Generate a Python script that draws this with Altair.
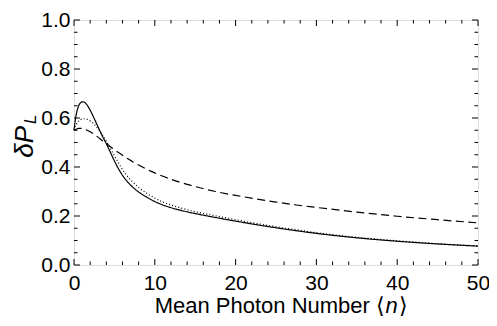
import altair as alt
import pandas as pd

# ---- data ----
n_vals = [0, 0.2, 0.4, 0.6, 0.8, 1.0, 1.25, 1.5, 2, 2.5, 3, 3.5, 4, 4.5, 5, 5.5, 6, 6.5, 7,
          7.5, 8, 9, 10, 11, 12, 13, 14, 15, 17.5, 20, 22.5, 25, 27.5, 30, 35, 40, 45, 50]
solid = [0.55, 0.60, 0.632, 0.652, 0.662, 0.666, 0.665, 0.658, 0.632, 0.598, 0.562, 0.527,
         0.495, 0.46, 0.425, 0.393, 0.366, 0.344, 0.326, 0.311, 0.298, 0.277, 0.259, 0.245,
         0.234, 0.225, 0.217, 0.21, 0.194, 0.179, 0.165, 0.152, 0.14, 0.129, 0.111, 0.097,
         0.086, 0.077]
dotted = [0.55, 0.568, 0.58, 0.588, 0.593, 0.596, 0.597, 0.596, 0.588, 0.574, 0.555, 0.532,
          0.505, 0.476, 0.446, 0.417, 0.39, 0.367, 0.348, 0.332, 0.317, 0.293, 0.273, 0.257,
          0.245, 0.235, 0.226, 0.218, 0.201, 0.185, 0.17, 0.156, 0.144, 0.132, 0.113, 0.099,
          0.087, 0.078]
dashed = [0.55, 0.553, 0.556, 0.558, 0.558, 0.557, 0.555, 0.552, 0.544, 0.533, 0.521, 0.508,
          0.496, 0.483, 0.471, 0.459, 0.448, 0.437, 0.427, 0.417, 0.408, 0.391, 0.376, 0.362,
          0.35, 0.339, 0.329, 0.32, 0.3, 0.284, 0.27, 0.257, 0.245, 0.235, 0.216, 0.199,
          0.185, 0.172]

x_major = [0, 10, 20, 30, 40, 50]
x_minor = [v for v in range(0, 51, 2) if v % 10 != 0]
y_major = [0.0, 0.2, 0.4, 0.6, 0.8, 1.0]
y_minor = [round(i * 0.05, 2) for i in range(21) if i % 4 != 0]

x_title_text = "Mean Photon Number \u27e8"
x_title_var = "n"
x_title_close = "\u27e9"
y_title_text = "\u03b4P"
y_title_sub = "L"

W, H = 404, 245
FONT = "Liberation Sans"

rows = []
for name, vals in [("solid", solid), ("dotted", dotted), ("dashed", dashed)]:
    for n, v in zip(n_vals, vals):
        rows.append({"n": n, "v": v, "series": name})
df = pd.DataFrame(rows)

xscale = alt.Scale(domain=[0, 50], nice=False, zero=False)
yscale = alt.Scale(domain=[0, 1], nice=False, zero=False)

lines = alt.Chart(df).mark_line(color="black", strokeWidth=1.2, interpolate="monotone").encode(
    x=alt.X("n:Q", scale=xscale,
            axis=alt.Axis(values=x_major, format="d", grid=False, domain=False, ticks=False,
                          tickSize=0, labelPadding=7, labelFontSize=21, labelFont=FONT,
                          labelColor="black", title=None, labelFlush=False)),
    y=alt.Y("v:Q", scale=yscale,
            axis=alt.Axis(values=y_major, format=".1f", grid=False, domain=False, ticks=False,
                          tickSize=0, labelPadding=4, labelFontSize=21, labelFont=FONT,
                          labelColor="black", title=None, labelFlush=False)),
    strokeDash=alt.StrokeDash("series:N",
                              scale=alt.Scale(domain=["solid", "dotted", "dashed"],
                                              range=[[1, 0], [1, 2.2], [8, 4.5]]),
                              legend=None),
    detail="series:N",
)

def xticks(vals, length):
    d = pd.DataFrame({"t": vals})
    b = alt.Chart(d).mark_rule(color="black", strokeWidth=1).encode(
        x=alt.X("t:Q", scale=xscale), y=alt.value(H), y2=alt.value(H - length))
    t = alt.Chart(d).mark_rule(color="black", strokeWidth=1).encode(
        x=alt.X("t:Q", scale=xscale), y=alt.value(0), y2=alt.value(length))
    return [b, t]

def yticks(vals, length):
    d = pd.DataFrame({"t": vals})
    l = alt.Chart(d).mark_rule(color="black", strokeWidth=1).encode(
        y=alt.Y("t:Q", scale=yscale), x=alt.value(0), x2=alt.value(length))
    r = alt.Chart(d).mark_rule(color="black", strokeWidth=1).encode(
        y=alt.Y("t:Q", scale=yscale), x=alt.value(W), x2=alt.value(W - length))
    return [l, r]

tick_layers = xticks(x_major, 6) + xticks(x_minor, 3.5) + yticks(y_major, 6) + yticks(y_minor, 3.5)

src = pd.DataFrame({"a": [0]})

def label(text, x, y, size, align="center", style="normal", font=FONT, angle=0):
    return alt.Chart(src).mark_text(
        text=text, angle=angle, align=align, baseline="alphabetic", font=font,
        fontSize=size, fontStyle=style, color="black").encode(x=alt.value(x), y=alt.value(y))

TY = 293
title_layers = [
    label(x_title_text, 311, TY, 22, align="right"),
    label(x_title_var, 311.5, TY, 22, align="left", style="italic"),
    label(x_title_close, 324.5, TY, 22, align="left"),
    label(y_title_text, -41, 106, 26, align="right", style="italic", angle=270),
    label(y_title_sub, -38, 104, 17, align="left", style="italic", angle=270),
]

chart = alt.layer(lines, *tick_layers, *title_layers).properties(
    width=W, height=H,
    autosize=alt.AutoSizeParams(type="none"),
    padding={"left": 66, "top": 12, "right": 11, "bottom": 52},
).configure_view(stroke="black", strokeWidth=1.6).configure(background="white")

chart.save("out.html", embed_options={"renderer": "svg", "actions": False})
